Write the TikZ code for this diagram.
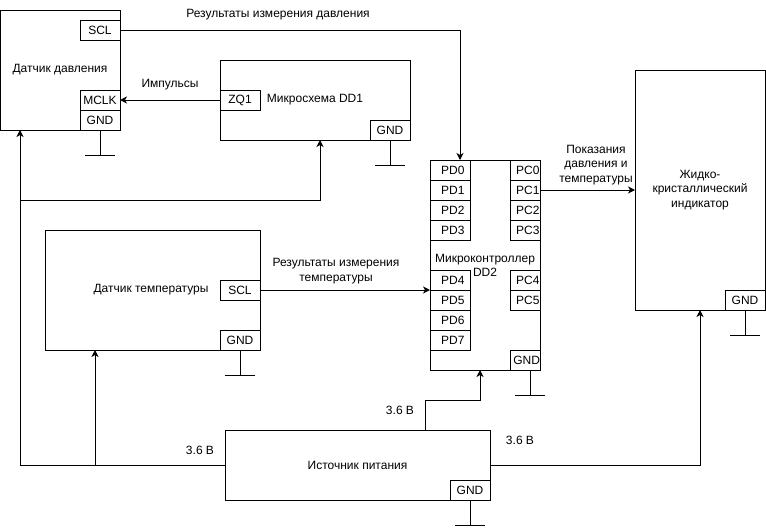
\documentclass[tikz,border=0pt]{standalone}
\usepackage{fontspec}
\setmainfont{Liberation Sans}
\usetikzlibrary{arrows.meta,calc}
\begin{document}
\begin{tikzpicture}[x=1pt,y=-1pt,
  font=\fontsize{12}{14.4}\selectfont,
  wire/.style={line width=1pt},
  arr/.style={wire,-{Stealth[length=7pt,width=7pt,inset=2pt]}},
  block/.style={draw, line width=1pt, outer sep=0pt, inner sep=0pt, anchor=north west},
  pin/.style={block, minimum width=40pt, minimum height=20pt},
  pdpin/.style={pin, text width=29pt, align=right},
  pcpin/.style={pin, minimum width=30pt, text width=29pt, align=right},
  lbl/.style={inner sep=0pt, align=center}]
\useasboundingbox (0,0) rectangle (766,531);

% ground symbol below a pin: stem and bar
\newcommand\earth[3]{%
  \draw[wire] ($(#1)+(#3,0)$) -- ++(0,25) coordinate (#2);
  \draw[wire] ($(#2)+(-15,0)$) -- ($(#2)+(15,0)$);}

% pressure sensor
\node[block, minimum width=119.5pt, minimum height=120pt] (ps) at (0.5,10) {};
\node[lbl] (ps-t) at (60,70) {Датчик давления};
\node[pin] (ps-scl) at (80,20) {SCL};
\node[pin] (ps-mclk) at (80,90) {MCLK};
\node[pin] (ps-gnd) at (80,110) {GND};
\earth{ps-gnd.south}{g-ps}{0}

% chip DD1
\node[block, minimum width=190pt, minimum height=80pt] (dd1) at (220,60) {};
\node[lbl] (dd1-t) at (315,100) {Микросхема DD1};
\node[pin] (dd1-zq) at (220,90) {ZQ1};
\node[pin] (dd1-gnd) at (370,120) {GND};
\earth{dd1-gnd.south}{g-dd1}{0}

% microcontroller DD2
\node[block, minimum width=110pt, minimum height=210pt] (mc) at (430,160) {};
\node[lbl] (mc-t) at (485,265.5) {Микроконтроллер\\DD2};
\foreach \i/\y in {0/160,1/180,2/200,3/220,4/270,5/290,6/310,7/330}
  \node[pdpin] (pd\i) at (430,\y) {PD\i};
\foreach \i/\y in {0/160,1/180,2/200,3/220,4/270,5/290}
  \node[pcpin] (pc\i) at (510,\y) {PC\i};
\node[pin, minimum width=30pt, text width=30pt, align=right] (mc-gnd) at (510,350) {GND};
\earth{mc-gnd.south}{g-mc}{5}

% LCD indicator
\node[block, minimum width=130pt, minimum height=240pt] (lcd) at (635,70) {};
\node[lbl] (lcd-t) at (700,190) {Жидко-\\кристаллический\\индикатор};
\node[pin] (lcd-gnd) at (725,290) {GND};
\earth{lcd-gnd.south}{g-lcd}{0}

% temperature sensor
\node[block, minimum width=215pt, minimum height=120pt] (ts) at (45,230) {};
\node[lbl] (ts-t) at (151,290) {Датчик температуры};
\node[pin] (ts-scl) at (220,280) {SCL};
\node[pin] (ts-gnd) at (220,330) {GND};
\earth{ts-gnd.south}{g-ts}{0}

% power supply
\node[block, minimum width=265pt, minimum height=70pt] (pw) at (225,430) {};
\node[lbl] (pw-t) at (357.5,465) {Источник питания};
\node[pin] (pw-gnd) at (450,480) {GND};
\earth{pw-gnd.south}{g-pw}{0}

% signal connections
\draw[arr] (ps-scl.east) -| ($(mc.north west)+(30,0)$);
\node[lbl] (l-p) at (278,15) {Результаты измерения давления};
\draw[arr] (dd1-zq.west) -- (ps-mclk.east);
\node[lbl] (l-imp) at (170,85) {Импульсы};
\draw[arr] (ts-scl.east) -- (mc.west |- ts-scl.east);
\node[lbl] (l-t) at (336,271) {Результаты измерения\\температуры};
\draw[arr] (pc1.east) -- (lcd.west |- pc1.east);
\node[lbl] (l-show) at (596,165) {Показания\\давления и\\температуры};

% supply rails
\coordinate (j-left) at (20,465);
\coordinate (j-ts) at (95,465);
\coordinate (j-dd1) at (20,200);
\coordinate (j-top) at (425,400);
\draw[arr] (pw.west) -| ($(ps.south west)+(19.5,0)$);
\draw[arr] (j-ts) -- ($(ts.south west)+(50,0)$);
\draw[arr] (j-dd1) -| ($(dd1.south west)+(100,0)$);
\draw[arr] ($(pw.north west)+(200,0)$) -- (j-top) -| ($(mc.south west)+(50,0)$);
\draw[arr] (pw.east) -| ($(lcd.south west)+(65,0)$);
\node[lbl] (v-left) at (200,450) {3.6 В};
\node[lbl] (v-top) at (400,410) {3.6 В};
\node[lbl] (v-right) at (520,440) {3.6 В};
\end{tikzpicture}
\end{document}
